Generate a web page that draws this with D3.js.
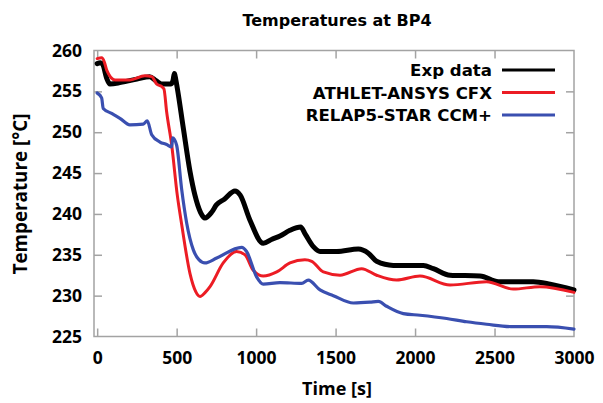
<!DOCTYPE html>
<html>
<head>
<meta charset="utf-8">
<script src="https://cdn.jsdelivr.net/npm/d3@7"></script>
<style>
  body { margin: 0; background: #fff; }
  .tick-label { font-family: "Open Sans", sans-serif; font-weight: 700; font-size: 17.5px; fill: #000; }
  .axis-title { font-family: "Open Sans", sans-serif; font-weight: 700; font-size: 18px; fill: #000; }
  .legend-label { font-family: "DejaVu Sans", sans-serif; font-weight: 700; font-size: 16.6px; fill: #000; }
  .title { font-family: "DejaVu Sans", sans-serif; font-weight: 700; font-size: 16px; fill: #000; }
</style>
</head>
<body>
<div id="chart"></div>
<script>
const width = 603;
const height = 403;

// tick values
const xTicks = [0, 500, 1000, 1500, 2000, 2500, 3000];
const yTicks = [225, 230, 235, 240, 245, 250, 255, 260];

// series names and colours
const seriesNames = ['Exp data', 'ATHLET-ANSYS CFX', 'RELAP5-STAR CCM+'];
const seriesColors = ['#000000', '#ec1c24', '#3a4fb0'];

// Exp data
const expTime = [0, 20, 35, 60, 80, 150, 250, 330, 370, 405, 465, 478, 485, 495, 504, 542, 584, 615, 650, 678, 720, 750, 800, 867, 900, 960, 1045, 1100, 1150, 1213, 1280, 1310, 1360, 1402, 1507, 1643, 1706, 1758, 1863, 2052, 2115, 2220, 2409, 2525, 2744, 2850, 3000];
const expTemp = [258.4, 258.5, 258.3, 256.6, 255.9, 256.1, 256.5, 256.8, 256.3, 255.9, 255.9, 256.4, 257.2, 256.4, 255.4, 250.5, 245.2, 242.3, 240.2, 239.5, 240.2, 241.1, 241.8, 242.8, 242.3, 239.3, 236.4, 236.9, 237.3, 238.0, 238.4, 237.5, 236.0, 235.4, 235.4, 235.7, 235.2, 234.2, 233.7, 233.7, 233.3, 232.5, 232.4, 231.7, 231.7, 231.4, 230.7];

// ATHLET-ANSYS CFX
const athTime = [0, 28, 45, 60, 112, 206, 300, 343, 374, 405, 420, 437, 469, 504, 531, 584, 620, 647, 680, 710, 793, 877, 930, 982, 1045, 1130, 1213, 1307, 1350, 1423, 1528, 1664, 1758, 1884, 2031, 2220, 2450, 2618, 2786, 3000];
const athTemp = [259.0, 259.1, 258.6, 257.6, 256.4, 256.4, 256.9, 256.8, 255.9, 255.6, 255.3, 252.5, 248.4, 242.3, 238.8, 232.7, 230.5, 229.9, 230.4, 231.1, 234.0, 235.4, 235.0, 233.1, 232.4, 232.9, 234.0, 234.4, 234.2, 232.9, 232.5, 233.3, 232.5, 231.9, 232.4, 231.3, 231.7, 230.8, 231.1, 230.4];

// RELAP5-STAR CCM+
const relTime = [0, 28, 38, 91, 143, 206, 290, 315, 343, 395, 437, 469, 475, 500, 531, 563, 605, 640, 678, 752, 909, 940, 1003, 1045, 1150, 1287, 1328, 1402, 1486, 1612, 1716, 1769, 1821, 1926, 2031, 2199, 2325, 2450, 2618, 2828, 3000];
const relTemp = [254.8, 254.2, 252.9, 252.3, 251.7, 250.9, 251.0, 251.4, 249.7, 248.8, 248.5, 248.2, 249.3, 248.4, 243.1, 238.9, 235.6, 234.4, 234.0, 234.6, 235.9, 235.4, 232.3, 231.4, 231.6, 231.5, 231.9, 230.7, 230.0, 229.1, 229.2, 229.3, 228.7, 227.8, 227.6, 227.2, 226.8, 226.5, 226.2, 226.2, 225.9];

const series = [
  { name: seriesNames[0], color: seriesColors[0], width: 5, t: expTime, v: expTemp },
  { name: seriesNames[1], color: seriesColors[1], width: 3, t: athTime, v: athTemp },
  { name: seriesNames[2], color: seriesColors[2], width: 3.2, t: relTime, v: relTemp }
];

const svg = d3.select('#chart')
  .append('svg')
  .attr('width', width)
  .attr('height', height);

const x = d3.scaleLinear().domain([-20, 3000]).range([94, 574]);
const y = d3.scaleLinear().domain([225, 260]).range([336.5, 50.5]);

const frameColor = '#a3a3a3';
const tickLen = 8;

// frame
svg.append('rect')
  .attr('x', x.range()[0]).attr('y', y.range()[1])
  .attr('width', x.range()[1] - x.range()[0])
  .attr('height', y.range()[0] - y.range()[1])
  .attr('fill', 'none')
  .attr('stroke', frameColor)
  .attr('stroke-width', 1.5);

// axes with inward ticks, labels drawn by the axis generators
const xAxis = d3.axisBottom(x).tickValues(xTicks).tickFormat(d3.format('d'))
  .tickSizeInner(-tickLen).tickSizeOuter(0).tickPadding(15.5);
const gx = svg.append('g').attr('transform', `translate(0,${y.range()[0]})`).call(xAxis);
const yAxis = d3.axisLeft(y).tickValues(yTicks).tickSizeInner(-tickLen).tickSizeOuter(0).tickPadding(12);
const gy = svg.append('g').attr('transform', `translate(${x.range()[0]},0)`).call(yAxis);

const xTop = d3.axisTop(x).tickValues(xTicks.filter((d) => d < 3000)).tickSizeInner(-tickLen).tickSizeOuter(0).tickFormat('');
const gxt = svg.append('g').attr('transform', `translate(0,${y.range()[1]})`).call(xTop);
const yRight = d3.axisRight(y).tickValues(yTicks.filter((d) => d > 225 && d < 260)).tickSizeInner(-tickLen).tickSizeOuter(0).tickFormat('');
const gyr = svg.append('g').attr('transform', `translate(${x.range()[1]},0)`).call(yRight);

[gx, gy, gxt, gyr].forEach((g) => {
  g.select('.domain').remove();
  g.selectAll('.tick line').attr('stroke', frameColor).attr('stroke-width', 1.5);
  g.selectAll('.tick text').attr('class', 'tick-label').attr('fill', '#000');
});
gy.selectAll('.tick line').filter((d) => d === 225 || d === 260).remove();
gx.selectAll('.tick line').filter((d) => d === 3000).remove();

// lines
const line = d3.line()
  .x((d) => x(d[0]))
  .y((d) => y(d[1]))
  .curve(d3.curveMonotoneX);

series.forEach((s) => {
  svg.append('path')
    .datum(s.t.map((t, i) => [t, s.v[i]]))
    .attr('fill', 'none')
    .attr('stroke', s.color)
    .attr('stroke-width', s.width)
    .attr('stroke-linejoin', 'round')
    .attr('stroke-linecap', 'round')
    .attr('d', line);
});

// legend
const legend = svg.append('g');
series.forEach((s, i) => {
  const ly = 70 + i * 22.5;
  legend.append('text')
    .attr('class', 'legend-label')
    .attr('x', 492).attr('y', ly + 6)
    .attr('text-anchor', 'end')
    .text(s.name);
  legend.append('line')
    .attr('x1', 502).attr('x2', 555)
    .attr('y1', ly).attr('y2', ly)
    .attr('stroke', s.color)
    .attr('stroke-width', 3);
});

// titles
svg.append('text')
  .attr('class', 'title')
  .attr('x', 337).attr('y', 26)
  .attr('text-anchor', 'middle')
  .text('Temperatures at BP4');

svg.append('text')
  .attr('class', 'axis-title')
  .attr('x', 337).attr('y', 395)
  .attr('text-anchor', 'middle')
  .text('Time [s]');

svg.append('text')
  .attr('class', 'axis-title')
  .attr('transform', 'translate(27,194) rotate(-90)')
  .attr('text-anchor', 'middle')
  .style('font-size', '18.8px')
  .text('Temperature [°C]');
</script>
</body>
</html>
